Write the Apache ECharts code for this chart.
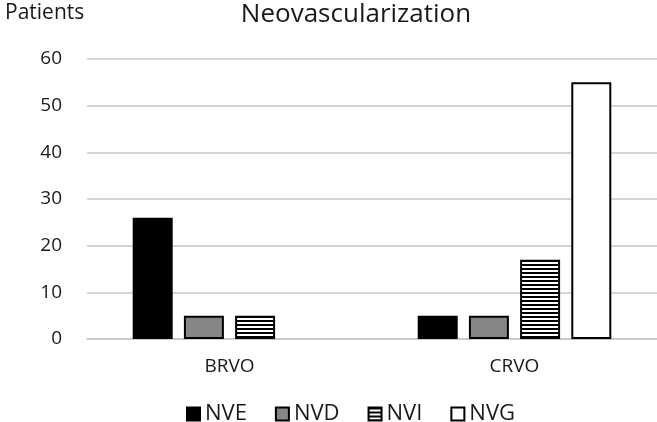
<!DOCTYPE html>
<html><head><meta charset="utf-8">
<script src="https://cdn.jsdelivr.net/npm/echarts@6/dist/echarts.min.js"></script>
<style>html,body{margin:0;padding:0;background:#fff}#c{width:657px;height:422px}</style>
</head><body><div id="c"></div>
<script>
var categories = ['BRVO', 'CRVO'];
var seriesNames = ['NVE', 'NVD', 'NVI', 'NVG'];
var nveValues = [26, 5];
var nvdValues = [5, 5];
var nviValues = [5, 17];
var nvgValues = [null, 55];
var yTicks = [0, 10, 20, 30, 40, 50, 60];

var pc = document.createElement('canvas');
pc.width = 4; pc.height = 4;
var ctx = pc.getContext('2d');
ctx.fillStyle = '#ffffff'; ctx.fillRect(0, 0, 4, 4);
ctx.fillStyle = '#000000'; ctx.fillRect(0, 0, 4, 2);
var hatch = { image: pc, repeat: 'repeat' };

var font = "'Open Sans', 'Liberation Sans', sans-serif";
var chart = echarts.init(document.getElementById('c'), null, { renderer: 'canvas' });
function mk(name, data, color) {
  return {
    name: name, type: 'bar', data: data,
    barWidth: 40, barGap: '28%',
    itemStyle: { color: color, borderColor: '#000', borderWidth: 2 }
  };
}
chart.setOption({
  animation: false,
  textStyle: { fontFamily: font },
  title: [
    { text: 'Neovascularization', left: 351, top: -3, textAlign: 'center',
      textStyle: { fontFamily: font, fontSize: 26, fontWeight: 'normal', color: '#1a1a1a' } },
    { text: 'Patients', left: 0, top: -2,
      textStyle: { fontFamily: font, fontSize: 21, fontWeight: 'normal', color: '#1a1a1a' } }
  ],
  legend: {
    data: seriesNames, top: 398, left: 181, itemWidth: 13, itemHeight: 13, itemGap: 28,
    icon: 'rect',
    textStyle: { fontFamily: font, fontSize: 22, color: '#1a1a1a' }
  },
  grid: { left: 87, right: 0, top: 59, bottom: 83 },
  xAxis: {
    type: 'category', data: categories,
    axisLine: { show: true, lineStyle: { color: '#c8c8c8', width: 1.5 } },
    axisTick: { show: false },
    axisLabel: { fontFamily: font, fontSize: 19, color: '#1a1a1a', margin: 18 }
  },
  yAxis: {
    type: 'value', min: yTicks[0], max: yTicks[yTicks.length - 1], interval: 10,
    axisLine: { show: false }, axisTick: { show: false },
    axisLabel: { fontFamily: font, fontSize: 19, color: '#1a1a1a', margin: 25 },
    splitLine: { lineStyle: { color: '#c8c8c8', width: 1.5 } }
  },
  series: [
    mk('NVE', nveValues, '#000000'),
    mk('NVD', nvdValues, '#858585'),
    mk('NVI', nviValues, hatch),
    mk('NVG', nvgValues, '#ffffff')
  ]
});
</script></body></html>
